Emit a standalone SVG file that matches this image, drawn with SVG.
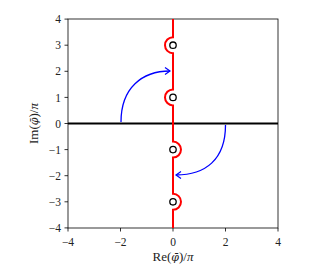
<svg xmlns="http://www.w3.org/2000/svg" width="320" height="280" viewBox="0 0 320 280">
<defs>
<style>
.tick{stroke:#000;stroke-width:0.8}
.lbl{font-family:"Liberation Serif","DejaVu Serif",serif;font-size:11.5px;fill:#222}
.ax{font-size:13px}
.yl{text-anchor:end}
.xl{text-anchor:middle}
.phi{font-family:"DejaVu Serif",serif;font-style:italic;font-size:11px}
.arrow{fill:none;stroke:#0000ff;stroke-width:1.3;marker-end:url(#ah)}
.pole{fill:#fff;stroke:#000;stroke-width:1.3}
</style>
<marker id="ah" markerUnits="userSpaceOnUse" markerWidth="10" markerHeight="10" refX="6" refY="5" orient="auto">
<path d="M1,1.5 L6,5 L1,8.5" fill="none" stroke="#0000ff" stroke-width="1.2"/>
</marker>
</defs>
<rect width="320" height="280" fill="#fff"/>
<g id="axes">
<rect x="68" y="19" width="210" height="209" fill="none" stroke="#000" stroke-width="0.8"/>
<g class="tick">
<line x1="64.5" y1="19.1" x2="68" y2="19.1"/>
<line x1="64.5" y1="45.2" x2="68" y2="45.2"/>
<line x1="64.5" y1="71.3" x2="68" y2="71.3"/>
<line x1="64.5" y1="97.4" x2="68" y2="97.4"/>
<line x1="64.5" y1="123.5" x2="68" y2="123.5"/>
<line x1="64.5" y1="149.6" x2="68" y2="149.6"/>
<line x1="64.5" y1="175.7" x2="68" y2="175.7"/>
<line x1="64.5" y1="201.8" x2="68" y2="201.8"/>
<line x1="64.5" y1="227.9" x2="68" y2="227.9"/>
<line x1="68" y1="228" x2="68" y2="231.5"/>
<line x1="120.5" y1="228" x2="120.5" y2="231.5"/>
<line x1="173" y1="228" x2="173" y2="231.5"/>
<line x1="225.5" y1="228" x2="225.5" y2="231.5"/>
<line x1="278" y1="228" x2="278" y2="231.5"/>
</g>
<g class="lbl yl">
<text x="61" y="23.2">4</text>
<text x="61" y="49.3">3</text>
<text x="61" y="75.4">2</text>
<text x="61" y="101.5">1</text>
<text x="61" y="127.6">0</text>
<text x="61" y="153.7">−1</text>
<text x="61" y="179.8">−2</text>
<text x="61" y="205.9">−3</text>
<text x="61" y="232">−4</text>
</g>
<g class="lbl xl">
<text x="68" y="245.5">−4</text>
<text x="120.5" y="245.5">−2</text>
<text x="173" y="245.5">0</text>
<text x="225.5" y="245.5">2</text>
<text x="278" y="245.5">4</text>
</g>
<text class="lbl ax xl" x="173" y="261">Re(<tspan class="phi">φ̄</tspan>)/<tspan font-style="italic">π</tspan></text>
<text class="lbl ax xl" transform="translate(38,123.5) rotate(-90)">Im(<tspan class="phi">φ̄</tspan>)/<tspan font-style="italic">π</tspan></text>
<line x1="68" y1="123.5" x2="278" y2="123.5" stroke="#000" stroke-width="1.8"/>
</g>
<g id="contour">
<path d="M173,19 V37.2 A8,8 0 0 0 173,53.2 V89.4 A8,8 0 0 0 173,105.4 V141.6 A8,8 0 0 1 173,157.6 V193.8 A8,8 0 0 1 173,209.8 V228" fill="none" stroke="#ff0000" stroke-width="2"/>
</g>
<g id="poles">
<circle class="pole" cx="173" cy="45.2" r="3.2"/>
<circle class="pole" cx="173" cy="97.4" r="3.2"/>
<circle class="pole" cx="173" cy="149.6" r="3.2"/>
<circle class="pole" cx="173" cy="201.8" r="3.2"/>
</g>
<g id="connectors">
<path class="arrow" d="M121,122 C121,88 142,71 170,71"/>
<path class="arrow" d="M225.5,125 C225.5,160 205,175 176,175"/>
</g>
</svg>
